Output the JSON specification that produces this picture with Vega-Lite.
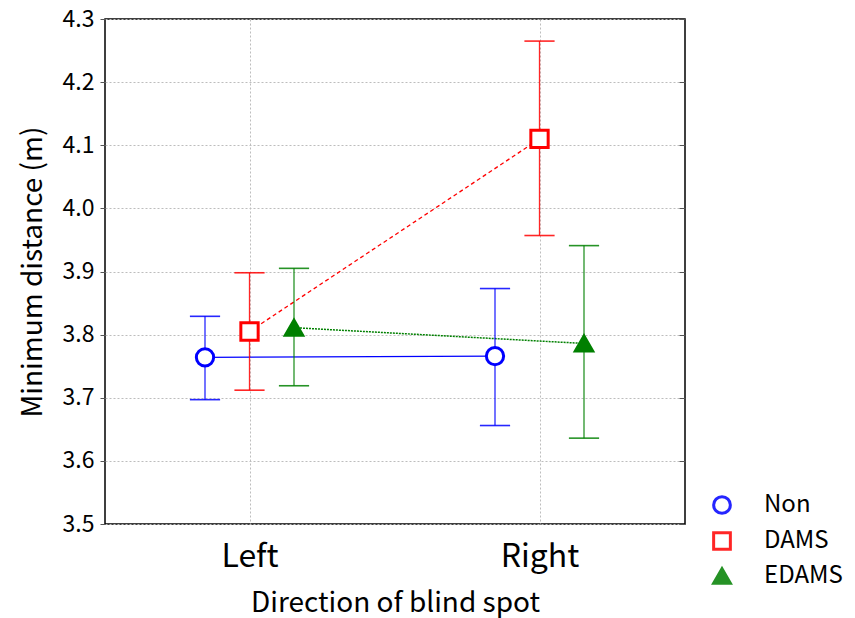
{
  "$schema": "https://vega.github.io/schema/vega-lite/v6.json",
  "width": 580,
  "height": 505,
  "autosize": "none",
  "padding": {"left": 105, "top": 19, "right": 170, "bottom": 94},
  "background": "white",
  "config": {
    "font": "Noto Sans CJK JP",
    "view": {"stroke": "black", "strokeWidth": 1.5},
    "axis": {"domain": false, "labelColor": "black", "titleColor": "black", "titleFontWeight": "normal"}
  },
  "data": {
    "values": [
      {"dir": "Left", "group": "Non", "mean": 3.764, "lo": 3.697, "hi": 3.829},
      {"dir": "Left", "group": "DAMS", "mean": 3.805, "lo": 3.712, "hi": 3.898},
      {"dir": "Left", "group": "EDAMS", "mean": 3.811, "lo": 3.719, "hi": 3.905},
      {"dir": "Right", "group": "Non", "mean": 3.766, "lo": 3.656, "hi": 3.873},
      {"dir": "Right", "group": "DAMS", "mean": 4.110, "lo": 3.957, "hi": 4.265},
      {"dir": "Right", "group": "EDAMS", "mean": 3.786, "lo": 3.636, "hi": 3.941}
    ]
  },
  "resolve": {"scale": {"y": "shared"}, "axis": {"y": "independent"}},
  "encoding": {
    "x": {
      "field": "dir", "type": "nominal",
      "scale": {"type": "band", "paddingInner": 0, "paddingOuter": 0, "domain": ["Left", "Right"]},
      "axis": {
        "title": "Direction of blind spot", "titleFontSize": 28, "titlePadding": 17,
        "labelAngle": 0, "labelFontSize": 32, "labelPadding": 17,
        "ticks": false, "bandPosition": 0.5,
        "grid": true, "gridColor": "#bdbdbd", "gridDash": [2, 2], "gridWidth": 1
      }
    },
    "xOffset": {
      "field": "group", "type": "nominal",
      "scale": {"type": "point", "padding": 0, "range": [100, 189], "domain": ["Non", "DAMS", "EDAMS"]}
    }
  },
  "layer": [
    {
      "transform": [{"filter": "datum.group === 'Non'"}],
      "mark": {"type": "line", "strokeWidth": 1.3, "color": "#0000ff"},
      "encoding": {
        "y": {
          "field": "mean", "type": "quantitative",
          "scale": {"domain": [3.5, 4.3], "nice": false, "zero": false},
          "axis": {
            "title": "Minimum distance (m)", "titleFontSize": 28, "titlePadding": 15,
            "labelFontSize": 23, "labelPadding": 6, "format": ".1f",
            "values": [3.5, 3.6, 3.7, 3.8, 3.9, 4.0, 4.1, 4.2, 4.3],
            "tickSize": 5, "tickColor": "#555555",
            "grid": true, "gridColor": "#bdbdbd", "gridDash": [2, 2], "gridWidth": 1
          }
        }
      }
    },
    {
      "transform": [{"filter": "datum.group === 'DAMS'"}],
      "mark": {"type": "line", "strokeWidth": 1.3, "color": "#ff0000", "strokeDash": [4, 3]},
      "encoding": {"y": {"field": "mean", "type": "quantitative", "axis": null}}
    },
    {
      "transform": [{"filter": "datum.group === 'EDAMS'"}],
      "mark": {"type": "line", "strokeWidth": 1.5, "color": "#008000", "strokeDash": [2, 1]},
      "encoding": {"y": {"field": "mean", "type": "quantitative", "axis": null}}
    },
    {
      "mark": {"type": "rule", "strokeWidth": 1.3, "opacity": 0.85},
      "encoding": {
        "y": {"field": "lo", "type": "quantitative", "axis": null},
        "y2": {"field": "hi"},
        "color": {"field": "group", "type": "nominal", "title": null,
          "scale": {"domain": ["Non", "DAMS", "EDAMS"], "range": ["#0000ff", "#ff0000", "#008000"]}}
      }
    },
    {
      "mark": {"type": "tick", "orient": "horizontal", "size": 29, "thickness": 0.4, "filled": false, "strokeWidth": 1.2, "opacity": 0.85},
      "encoding": {
        "y": {"field": "lo", "type": "quantitative", "axis": null},
        "color": {"field": "group", "type": "nominal", "title": null}
      }
    },
    {
      "mark": {"type": "tick", "orient": "horizontal", "size": 29, "thickness": 0.4, "filled": false, "strokeWidth": 1.2, "opacity": 0.85},
      "encoding": {
        "y": {"field": "hi", "type": "quantitative", "axis": null},
        "color": {"field": "group", "type": "nominal", "title": null}
      }
    },
    {
      "mark": {"type": "point", "filled": false, "strokeWidth": 3, "size": 300, "opacity": 1},
      "encoding": {
        "y": {
          "field": "mean", "type": "quantitative",
          "axis": {"orient": "right", "labels": false, "title": null, "tickSize": -6, "tickColor": "#555555", "grid": false, "values": [3.5, 3.6, 3.7, 3.8, 3.9, 4.0, 4.1, 4.2, 4.3]}
        },
        "shape": {
          "field": "group", "type": "nominal", "title": null,
          "scale": {"domain": ["Non", "DAMS", "EDAMS"], "range": ["circle", "square", "triangle-up"]},
          "legend": {
            "orient": "none", "legendX": 605, "legendY": 474,
            "labelFontSize": 24, "labelOffset": 30, "symbolSize": 280, "symbolStrokeWidth": 3,
            "rowPadding": 6, "labelColor": "black", "symbolOpacity": 1
          }
        },
        "color": {"field": "group", "type": "nominal", "title": null},
        "fill": {
          "field": "group", "type": "nominal", "title": null,
          "scale": {"domain": ["Non", "DAMS", "EDAMS"], "range": ["white", "white", "#007f00"]}
        }
      }
    }
  ]
}
